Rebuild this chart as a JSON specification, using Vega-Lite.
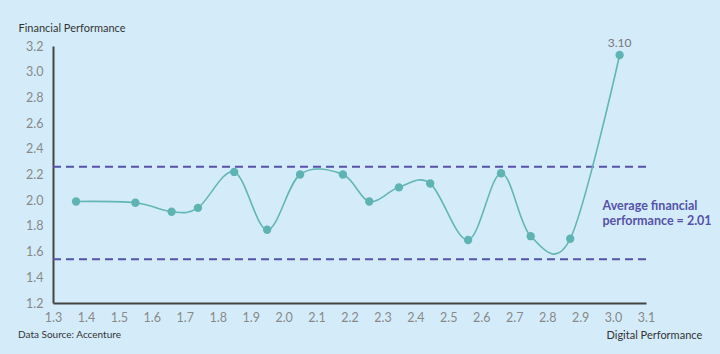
{
  "$schema": "https://vega.github.io/schema/vega-lite/v6.json",
  "width": 593,
  "height": 257,
  "autosize": {"type": "none"},
  "padding": {"left": 53, "top": 46, "right": 74, "bottom": 51},
  "background": "#d4ecfa",
  "config": {
    "view": {"stroke": null},
    "font": "Lato",
    "axis": {
      "grid": false,
      "ticks": false,
      "domainColor": "#444444",
      "domainWidth": 2,
      "labelColor": "#888888",
      "labelFontSize": 12.5,
      "labelFont": "Lato",
      "titleFont": "Lato",
      "titleFontWeight": "normal",
      "titleFontSize": 11,
      "titleColor": "#333333"
    }
  },
  "title": {
    "text": "Data Source: Accenture",
    "orient": "bottom",
    "anchor": "start",
    "frame": "group",
    "fontSize": 10,
    "fontWeight": "normal",
    "color": "#333333",
    "font": "Lato",
    "dx": -35,
    "offset": -10
  },
  "datasets": {
    "points": [
      {"digital": 1.37, "financial": 1.99},
      {"digital": 1.55, "financial": 1.98},
      {"digital": 1.66, "financial": 1.91},
      {"digital": 1.74, "financial": 1.94},
      {"digital": 1.85, "financial": 2.22},
      {"digital": 1.95, "financial": 1.77},
      {"digital": 2.05, "financial": 2.2},
      {"digital": 2.18, "financial": 2.2},
      {"digital": 2.26, "financial": 1.99},
      {"digital": 2.35, "financial": 2.1},
      {"digital": 2.445, "financial": 2.13},
      {"digital": 2.56, "financial": 1.69},
      {"digital": 2.66, "financial": 2.21},
      {"digital": 2.75, "financial": 1.72},
      {"digital": 2.87, "financial": 1.7},
      {"digital": 3.02, "financial": 3.13, "label": "3.10"}
    ],
    "bands": [
      {"financial": 2.26},
      {"financial": 1.54}
    ],
    "notes": [
      {"digital": 2.968, "financial": 1.92, "text": ["Average financial", "performance = 2.01"]}
    ]
  },
  "layer": [
    {
      "data": {"name": "bands"},
      "mark": {"type": "rule", "color": "#5552a8", "strokeWidth": 2, "strokeDash": [8, 5]},
      "encoding": {
        "y": {"field": "financial", "type": "quantitative"}
      }
    },
    {
      "data": {"name": "points"},
      "mark": {"type": "line", "interpolate": "cardinal", "color": "#62b6b6", "strokeWidth": 1.6},
      "encoding": {
        "x": {"field": "digital", "type": "quantitative",
              "scale": {"domain": [1.3, 3.1], "nice": false, "zero": false},
              "axis": {"tickCount": 40, "values": [1.3,1.4,1.5,1.6,1.7,1.8,1.9,2.0,2.1,2.2,2.3,2.4,2.5,2.6,2.7,2.8,2.9,3.0,3.1],
                       "format": ".1f", "labelPadding": 8, "labelOverlap": false, "labelFlush": false, "labelBound": false,
                       "title": "Digital Performance", "titleAnchor": "start", "titleAlign": "left",
                       "titleX": 553, "titleY": 35, "titleBaseline": "alphabetic"}},
        "y": {"field": "financial", "type": "quantitative",
              "scale": {"domain": [1.2, 3.2], "nice": false, "zero": false},
              "axis": {"tickCount": 40, "values": [1.2,1.4,1.6,1.8,2.0,2.2,2.4,2.6,2.8,3.0,3.2],
                       "format": ".1f", "labelPadding": 10, "labelOverlap": false, "labelFlush": false, "labelBound": false,
                       "title": "Financial Performance", "titleAngle": 0, "titleAlign": "left",
                       "titleX": -35, "titleY": -15, "titleBaseline": "alphabetic"}}
      }
    },
    {
      "data": {"name": "points"},
      "mark": {"type": "circle", "size": 70, "color": "#5fb3b3", "opacity": 1},
      "encoding": {
        "x": {"field": "digital", "type": "quantitative"},
        "y": {"field": "financial", "type": "quantitative"}
      }
    },
    {
      "data": {"name": "points"},
      "transform": [{"filter": "isValid(datum.label)"}],
      "mark": {"type": "text", "dy": -5, "fontSize": 12, "color": "#777777", "baseline": "bottom"},
      "encoding": {
        "x": {"field": "digital", "type": "quantitative"},
        "y": {"field": "financial", "type": "quantitative"},
        "text": {"field": "label"}
      }
    },
    {
      "data": {"name": "notes"},
      "mark": {"type": "text", "align": "left", "baseline": "alphabetic", "fontSize": 12.5, "fontWeight": "bold", "color": "#5552a8", "lineHeight": 15},
      "encoding": {
        "x": {"field": "digital", "type": "quantitative"},
        "y": {"field": "financial", "type": "quantitative"},
        "text": {"field": "text"}
      }
    }
  ]
}
